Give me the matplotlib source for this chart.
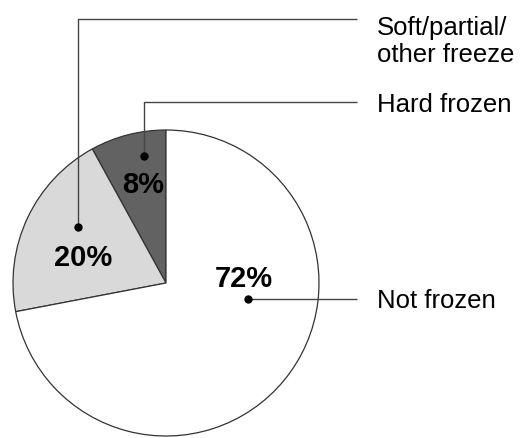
import matplotlib
matplotlib.use("Agg")
import matplotlib.pyplot as plt

# data
LABELS = ["Hard frozen", "Soft/partial/\nother freeze", "Not frozen"]
SHARES = [8, 20, 72]
PCT_TEXT = ["8%", "20%", "72%"]
COLORS = ["#626262", "#d9d9d9", "#ffffff"]

W, H = 520, 438
plt.rcParams["font.family"] = ["Liberation Sans", "DejaVu Sans"]

fig = plt.figure(figsize=(W / 100, H / 100), dpi=100)
ax = fig.add_axes([0, 0, 1, 1])

center = (166, 155)
radius = 153
ax.pie(
    SHARES,
    colors=COLORS,
    startangle=90,
    counterclock=True,
    center=center,
    radius=radius,
    wedgeprops=dict(edgecolor="#333333", linewidth=0.9),
)
ax.set_xlim(0, W)
ax.set_ylim(0, H)
ax.set_aspect("equal")
ax.axis("off")

# percentage labels inside the wedges (x, baseline y)
pct_pos = [(143.5, 245), (83, 172), (244, 151)]
for txt, (x, y) in zip(PCT_TEXT, pct_pos):
    ax.text(x, y, txt, ha="center", va="baseline", fontsize=21,
            fontweight="bold", color="black")

# leader lines: dot -> (elbow) -> label
line_kw = dict(color="#444444", linewidth=1.0, solid_capstyle="butt")
x_end = 357
x_text = 377

leaders = [
    ((144, 282), 336, 326),   # hard frozen: dot, elbow y, text baseline
    ((78, 211), 419, 376),    # soft/partial
    ((248, 139), 139, 130),   # not frozen
]
for label, (dot, y_line, y_text) in zip(LABELS, leaders):
    dx, dy = dot
    if y_line != dy:
        ax.plot([dx, dx, x_end], [dy, y_line, y_line], **line_kw)
    else:
        ax.plot([dx, x_end], [dy, dy], **line_kw)
    ax.plot(dx, dy, "o", color="black", markersize=5)
    ax.text(x_text, y_text, label, ha="left", va="baseline", fontsize=18.5,
            color="black", linespacing=1.15)

fig.savefig("out.png", dpi=100)
